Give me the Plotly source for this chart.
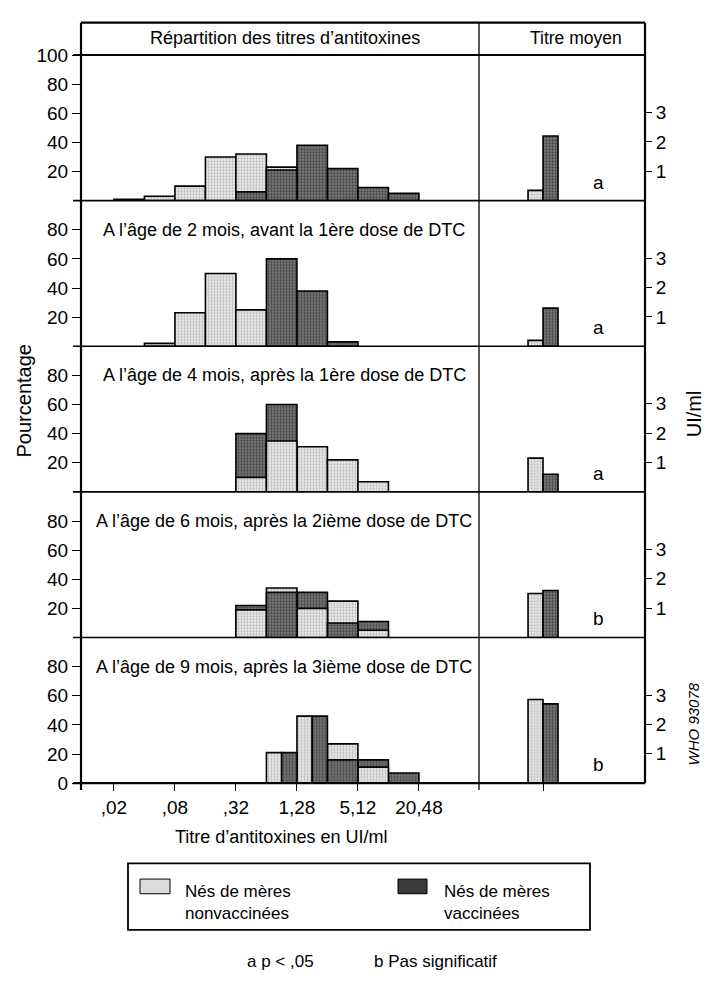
import math
import plotly.graph_objects as go

# ---------------- data ----------------
BIN_LOWER = [0.01, 0.02, 0.04, 0.08, 0.16, 0.32, 0.64, 1.28, 2.56, 5.12, 10.24, 20.48, 40.96]
TICK_VALUES = [0.02, 0.08, 0.32, 1.28, 5.12, 20.48]
TICK_LABELS = [",02", ",08", ",32", "1,28", "5,12", "20,48"]

PANEL_TITLES = [
    "",
    "A l’âge de 2 mois, avant la 1ère dose de DTC",
    "A l’âge de 4 mois, après la 1ère dose de DTC",
    "A l’âge de 6 mois, après la 2ième dose de DTC",
    "A l’âge de 9 mois, après la 3ième dose de DTC",
]

# % per titre bin — born to non-vaccinated mothers
NON_VACC_NAISSANCE = [0, 1, 3, 10, 30, 32, 23, 0, 0, 0, 0, 0, 0]
NON_VACC_2M = [0, 0, 2, 23, 50, 25, 0, 0, 0, 0, 0, 0, 0]
NON_VACC_4M = [0, 0, 0, 0, 0, 10, 35, 31, 22, 7, 0, 0, 0]
NON_VACC_6M = [0, 0, 0, 0, 0, 19, 34, 20, 25, 5, 0, 0, 0]
NON_VACC_9M = [0, 0, 0, 0, 0, 0, 21, 46, 27, 11, 0, 0, 0]

# % per titre bin — born to vaccinated mothers
VACC_NAISSANCE = [0, 0, 0, 0, 0, 6, 21, 38, 22, 9, 5, 0, 0]
VACC_2M = [0, 0, 0, 0, 0, 0, 60, 38, 3, 0, 0, 0, 0]
VACC_4M = [0, 0, 0, 0, 0, 40, 60, 0, 0, 0, 0, 0, 0]
VACC_6M = [0, 0, 0, 0, 0, 22, 31, 31, 10, 11, 0, 0, 0]
VACC_9M = [0, 0, 0, 0, 0, 0, 21, 46, 16, 16, 7, 0, 0]

# mean titre (UI/ml)
MEAN_NON_VACC = [0.35, 0.2, 1.15, 1.5, 2.85]
MEAN_VACC = [2.2, 1.3, 0.6, 1.6, 2.7]
SIGNIF = ["a", "a", "a", "b", "b"]

NON_VACC = [NON_VACC_NAISSANCE, NON_VACC_2M, NON_VACC_4M, NON_VACC_6M, NON_VACC_9M]
VACC = [VACC_NAISSANCE, VACC_2M, VACC_4M, VACC_6M, VACC_9M]

# ---------------- style ----------------
W, H = 711, 985
FONT = "Liberation Sans, Arial, sans-serif"
NARROW = "Liberation Sans Narrow, Liberation Sans, Arial, sans-serif"
LIGHT = dict(color="#e4e4e4", pattern=dict(shape=".", fgcolor="#8a8a8a", bgcolor="#eeeeee", size=3, solidity=0.45))
DARK = dict(color="#4a4a4a", pattern=dict(shape=".", fgcolor="#111111", bgcolor="#7a7a7a", size=3, solidity=0.45))
OUT = dict(color="black", width=1.6)

X_L0, X_DIV, X_R1 = 81, 479, 645
Y_TOP, Y_HEAD, Y_BOT = 13, 46, 790
PH = (Y_BOT - Y_HEAD) / 5


def px(x):
    return x / W


def py(y):
    return 1 - y / H


fig = go.Figure()
log_lo = math.log2(1.28) - 7.08
log_hi = math.log2(1.28) + 5.97

for p in range(5):
    top = Y_HEAD + PH * p
    bot = top + PH
    k = 2 * p + 1
    xl, yl, xr, yr = f"x{k}", f"y{k}", f"x{k+1}", f"y{k+1}"
    light, dark = NON_VACC[p], VACC[p]
    centers = [math.log2(b) + 0.5 for b in BIN_LOWER]

    groups = {"lb": ([], [], [], []), "db": ([], [], [], []), "lf": ([], [], [], []), "df": ([], [], [], [])}

    def put(key, i, v, off, wid):
        g = groups[key]
        g[0].append(centers[i]); g[1].append(v); g[2].append(off); g[3].append(wid)

    for i, (a, b) in enumerate(zip(light, dark)):
        if a <= 0 and b <= 0:
            continue
        if a == b:
            put("lb", i, a, -0.5, 0.5)
            put("db", i, b, 0.0, 0.5)
        elif a > b:
            put("lb", i, a, -0.5, 1.0)
            if b > 0:
                put("df", i, b, -0.5, 1.0)
        else:
            put("db", i, b, -0.5, 1.0)
            if a > 0:
                put("lf", i, a, -0.5, 1.0)
    for key in ["lb", "db", "lf", "df"]:
        xs, ys, offs, wids = groups[key]
        if not xs:
            continue
        mk = dict(LIGHT if key[0] == "l" else DARK)
        mk["line"] = OUT
        fig.add_trace(go.Bar(x=xs, y=ys, offset=offs, width=wids, marker=mk,
                             xaxis=xl, yaxis=yl, showlegend=False, hoverinfo="skip"))

    # mean titre bars
    fig.add_trace(go.Bar(x=[0], y=[MEAN_NON_VACC[p]], offset=-1, width=1, marker=dict(LIGHT, line=OUT),
                         xaxis=xr, yaxis=yr, showlegend=False, hoverinfo="skip"))
    fig.add_trace(go.Bar(x=[0], y=[MEAN_VACC[p]], offset=0, width=1, marker=dict(DARK, line=OUT),
                         xaxis=xr, yaxis=yr, showlegend=False, hoverinfo="skip"))

    last = p == 4
    ydom = [py(bot), py(top)]
    ytv = [20, 40, 60, 80] + ([100] if p == 0 else []) + ([0] if last else [])
    fig.update_layout(**{
        f"xaxis{k}": dict(domain=[px(X_L0), px(X_DIV)], range=[log_lo, log_hi], anchor=yl,
                          showgrid=False, zeroline=False, showline=False,
                          tickvals=[math.log2(v) for v in TICK_VALUES] if last else [],
                          ticktext=TICK_LABELS if last else [],
                          ticks="outside" if last else "", ticklen=7, tickwidth=1.3, tickcolor="black",
                          tickfont=dict(family=NARROW, size=19, color="black")),
        f"yaxis{k}": dict(domain=ydom, range=[0, 100], anchor=xl, showgrid=False, zeroline=False,
                          showline=False, tickvals=ytv, ticktext=[str(v) for v in ytv],
                          ticks="outside", ticklen=8, tickwidth=1.3, tickcolor="black",
                          tickfont=dict(family=NARROW, size=19, color="black")),
        f"xaxis{k+1}": dict(domain=[px(X_DIV), px(X_R1)], range=[-4.27, 6.8], anchor=yr,
                            showgrid=False, zeroline=False, showline=False,
                            tickvals=[0] if last else [], ticktext=[""] if last else [],
                            ticks="outside" if last else "", ticklen=7, tickwidth=1.3, tickcolor="black"),
        f"yaxis{k+1}": dict(domain=ydom, range=[0, PH / 30], anchor=xr, side="right",
                            showgrid=False, zeroline=False, showline=False,
                            tickvals=[1, 2, 3], ticktext=["1", "2", "3"],
                            ticks="outside", ticklen=6, tickwidth=1.3, tickcolor="black",
                            tickfont=dict(family=NARROW, size=19, color="black")),
    })

    if PANEL_TITLES[p]:
        fig.add_annotation(text=PANEL_TITLES[p], xref="paper", yref=yl, x=px(284), y=80,
                           showarrow=False, font=dict(family=FONT, size=18, color="black"),
                           xanchor="center", yanchor="middle")
    fig.add_annotation(text=SIGNIF[p], xref="paper", yref="paper", x=px(598), y=py(bot - 19),
                       showarrow=False, font=dict(family=NARROW, size=19, color="black"),
                       xanchor="center", yanchor="middle")

# ---------------- frame ----------------
shapes = []


def hline(y, x0, x1, w):
    shapes.append(dict(type="line", xref="paper", yref="paper", x0=px(x0), x1=px(x1), y0=py(y), y1=py(y),
                       line=dict(color="black", width=w), layer="above"))


def vline(x, y0, y1, w):
    shapes.append(dict(type="line", xref="paper", yref="paper", x0=px(x), x1=px(x), y0=py(y0), y1=py(y1),
                       line=dict(color="black", width=w), layer="above"))


hline(Y_TOP, X_L0, X_R1, 2.2)
hline(Y_HEAD, 73, X_R1, 2.2)
for p in range(1, 5):
    hline(Y_HEAD + PH * p, 73, X_R1, 1.6)
hline(Y_BOT, 73, X_R1, 2.2)
vline(X_L0, Y_TOP, Y_BOT + 7, 2.2)
vline(X_R1, Y_TOP, Y_BOT, 2.2)
vline(X_DIV, Y_TOP, Y_BOT + 7, 1.3)

# legend box
shapes.append(dict(type="rect", xref="paper", yref="paper", x0=px(128), x1=px(590), y0=py(940), y1=py(872),
                   line=dict(color="black", width=1.8)))
shapes.append(dict(type="rect", xref="paper", yref="paper", x0=px(140), x1=px(170), y0=py(903), y1=py(888),
                   line=dict(color="black", width=1), fillcolor="#dcdcdc"))
shapes.append(dict(type="rect", xref="paper", yref="paper", x0=px(398), x1=px(427), y0=py(903), y1=py(888),
                   line=dict(color="black", width=1), fillcolor="#3c3c3c"))

fig.update_layout(shapes=shapes)


def note(text, x, y, size=17, family=FONT, angle=0, xanchor="center", italic=False):
    fig.add_annotation(text=text, xref="paper", yref="paper", x=px(x), y=py(y), showarrow=False,
                       textangle=angle, xanchor=xanchor, yanchor="middle", align="left",
                       font=dict(family=family, size=size, color="black", style="italic" if italic else "normal"))


note("Répartition des titres d’antitoxines", 285, 29, 18)
note("Titre moyen", 576, 29, 17.5)
note("Pourcentage", 24, 400, 20, NARROW, -90)
note("UI/ml", 694, 413, 20, NARROW, -90)
note("WHO 93078", 693, 730, 15, NARROW, -90, italic=True)
note("Titre d’antitoxines en UI/ml", 281, 845, 18)
note("Nés de mères<br>nonvaccinées", 183, 912, 17, xanchor="left")
note("Nés de mères<br>vaccinées", 442, 912, 17, xanchor="left")
note("a p < ,05", 280, 972, 17)
note("b Pas significatif", 435, 972, 17)

fig.update_layout(width=W, height=H, margin=dict(l=0, r=0, t=0, b=0), barmode="overlay",
                  plot_bgcolor="white", paper_bgcolor="white", showlegend=False,
                  font=dict(family=FONT, color="black"))

fig.write_html("out.html")
